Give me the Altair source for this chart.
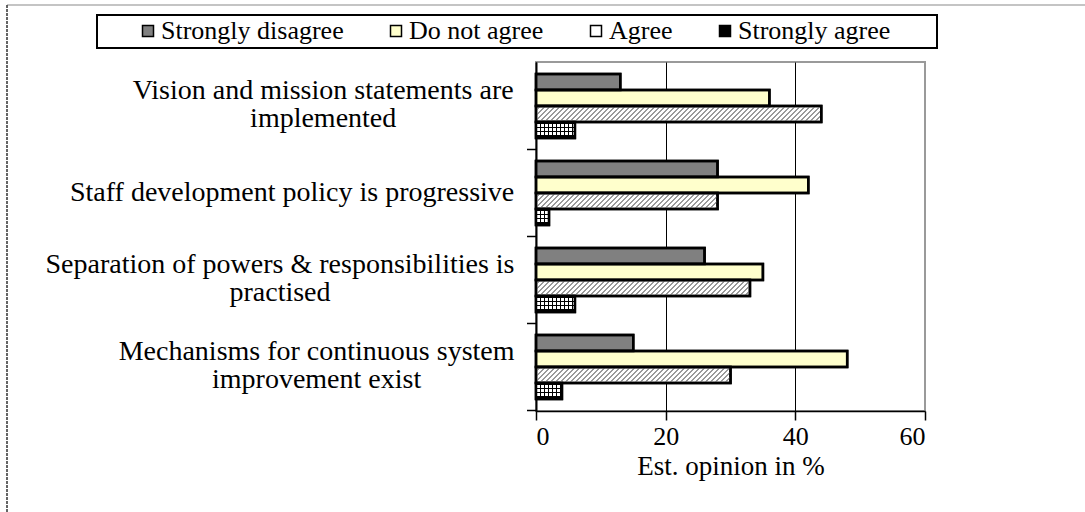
import json
import altair as alt
import pandas as pd

# ---------------- data ----------------
categories = [
    "Vision and mission statements are implemented",
    "Staff development policy is progressive",
    "Separation of powers & responsibilities is practised",
    "Mechanisms for continuous system improvement exist",
]
label_lines = [
    ["Vision and mission statements are", "implemented"],
    ["Staff development policy is progressive"],
    ["Separation of powers & responsibilities is", "practised"],
    ["Mechanisms for continuous system", "improvement exist"],
]
series = ["Strongly disagree", "Do not agree", "Agree", "Strongly agree"]
strongly_disagree = [13, 28, 26, 15]
do_not_agree = [36, 42, 35, 48]
agree = [44, 28, 33, 30]
strongly_agree = [6, 2, 6, 4]
x_ticks = [0, 20, 40, 60]

FONT = "'Liberation Serif', 'Times New Roman', Times, 'DejaVu Serif', serif"
X_TITLE = "Est. opinion in %"

# Times / Liberation Serif advance widths (per 1000 em) to centre multi-line labels
TW = {" ": 250, "&": 778, "a": 444, "b": 500, "c": 444, "d": 500, "e": 444, "f": 333,
      "g": 500, "h": 500, "i": 278, "j": 278, "k": 500, "l": 278, "m": 778, "n": 500,
      "o": 500, "p": 500, "q": 500, "r": 333, "s": 389, "t": 278, "u": 500, "v": 500,
      "w": 722, "x": 500, "y": 500, "z": 444, "V": 722, "S": 556, "M": 889, "A": 722}
YFS = 28
LINE_H = 28


def text_w(s, size):
    return sum(TW.get(ch, 500) for ch in s) / 1000 * size


# ---------------- tables ----------------
rows = []
for s, vals in zip(series, [strongly_disagree, do_not_agree, agree, strongly_agree]):
    for c, v in zip(categories, vals):
        rows.append({"category": c, "series": s, "value": v, "zero": 0})
bars_df = pd.DataFrame(rows)

hatch_rows = []
for c, v in zip(categories, agree):
    for slot in range(33, 47):
        hatch_rows.append({"category": c, "slot": slot, "value": v, "zero": 0,
                           "pat": "h%d" % ((60 - slot) % 5)})
hatch_df = pd.DataFrame(hatch_rows)

grid_rows = []
for c, v in zip(categories, strongly_agree):
    for slot in (50, 51, 52, 54, 55, 56, 58, 59, 60):
        grid_rows.append({"category": c, "slot": slot, "value": v, "zero": 0, "pat": "g"})
grid_df = pd.DataFrame(grid_rows)

cat_df = pd.DataFrame({"category": categories})
one_df = pd.DataFrame({"k": [0]})

# ---------------- axis helpers ----------------
expr = "datum.value"
for c, lines in reversed(list(zip(categories, label_lines))):
    expr = "datum.value === %s ? %s : (%s)" % (json.dumps(c), json.dumps(lines), expr)

pad_conditions = []
off_conditions = []
for c, lines in zip(categories, label_lines):
    w = max(text_w(l, YFS) for l in lines)
    test = "datum.value === %s" % json.dumps(c)
    pad_conditions.append({"test": test, "value": round(22 + w / 2, 1)})
    off_conditions.append({"test": test, "value": -(len(lines) - 1) * (LINE_H / 2 + 1)})

y_scale = alt.Scale(paddingInner=23 / 87, paddingOuter=12 / 87)
y_main = alt.Y(
    "category:N", sort=categories, title=None, scale=y_scale,
    axis=alt.Axis(
        labelExpr=expr, labelAlign="center", labelBaseline="middle",
        labelPadding={"condition": pad_conditions, "value": 22},
        labelOffset={"condition": off_conditions, "value": 0},
        ticks=False, domainColor="black", domainWidth=2,
        labelFont=FONT, labelFontSize=YFS, labelLineHeight=LINE_H,
        labelColor="black", labelLimit=0,
    ),
)
y_plain = alt.Y("category:N", sort=categories)

x_scale = alt.Scale(domain=[0, 60], nice=False)
x_main = alt.X(
    "value:Q", scale=x_scale, title=X_TITLE,
    axis=alt.Axis(
        values=x_ticks, grid=True,
        gridColor={"condition": {"test": "datum.value === 60", "value": "#9a9a9a"}, "value": "black"},
        gridWidth=1, tickSize=9, tickColor="black", tickWidth=1.5,
        domainColor="black", domainWidth=1.5,
        labelFont=FONT, labelFontSize=26, labelColor="black", labelPadding=3,
        titleFont=FONT, titleFontSize=27, titleFontWeight="normal", titleColor="black",
        titlePadding=4,
    ),
)
slot_off = alt.YOffset("slot:O", scale=alt.Scale(domain=list(range(64)), paddingInner=0, paddingOuter=0))
dash_scale = alt.Scale(
    domain=["h0", "h1", "h2", "h3", "h4", "g"],
    range=[[2, 3], [0, 1, 2, 2], [0, 2, 2, 1], [0, 3, 2, 0], [1, 3, 1, 0], [0, 1, 3, 0]],
)

# ---------------- layers ----------------
bars = alt.Chart(bars_df).mark_bar(stroke="black", strokeWidth=2.5).encode(
    y=y_main,
    x=x_main,
    yOffset=alt.YOffset("series:N", sort=series,
                        scale=alt.Scale(domain=series, paddingInner=0, paddingOuter=0)),
    color=alt.Color(
        "series:N", sort=series,
        scale=alt.Scale(domain=series, range=["#808080", "#ffffcc", "#ffffff", "#000000"]),
        legend=alt.Legend(
            title=None, orient="none", legendX=-401, legendY=-44, direction="horizontal",
            columns=4, labelFont=FONT, labelFontSize=26, labelColor="black",
            symbolType="square", symbolSize=121, symbolStrokeColor="black",
            symbolStrokeWidth=1.5, columnPadding=39, labelOffset=0, padding=0,
            labelLimit=0,
        ),
    ),
)

hatch = alt.Chart(hatch_df).mark_rule(color="#9a9a9a", strokeWidth=1).encode(
    y=y_plain, yOffset=slot_off,
    x=alt.X("zero:Q", scale=x_scale, title=X_TITLE), x2="value:Q",
    strokeDash=alt.StrokeDash("pat:N", scale=dash_scale, legend=None),
)

grid = alt.Chart(grid_df).mark_rule(color="#ffffff", strokeWidth=1).encode(
    y=y_plain, yOffset=slot_off,
    x=alt.X("zero:Q", scale=x_scale, title=X_TITLE), x2="value:Q",
    strokeDash=alt.StrokeDash("pat:N", scale=dash_scale, legend=None),
)

outline = alt.Chart(bars_df).mark_bar(stroke="black", strokeWidth=2.5, fillOpacity=0).encode(
    y=y_plain,
    x=alt.X("value:Q", scale=x_scale, title=X_TITLE),
    yOffset=alt.YOffset("series:N", sort=series,
                        scale=alt.Scale(domain=series, paddingInner=0, paddingOuter=0)),
)

cat_ticks = alt.Chart(cat_df).mark_rule(color="black", strokeWidth=1.5, yOffset=11.5).encode(
    y=alt.Y("category:N", sort=categories, bandPosition=1),
    x=alt.value(-9), x2=alt.value(0),
)

legend_box = alt.Chart(one_df).mark_rect(fillOpacity=0, stroke="black", strokeWidth=2).encode(
    x=alt.value(-439), x2=alt.value(401), y=alt.value(-47), y2=alt.value(-14),
)
frame_top = alt.Chart(one_df).mark_rule(color="#b0b0b0", strokeWidth=1.5).encode(
    x=alt.value(-529), x2=alt.value(560), y=alt.value(-57),
)
frame_left = alt.Chart(one_df).mark_rule(color="#333333", strokeWidth=1.5, strokeDash=[3, 1]).encode(
    x=alt.value(-529), y=alt.value(-57), y2=alt.value(460),
)

chart = alt.layer(
    bars, hatch, grid, outline, cat_ticks, legend_box, frame_top, frame_left
).resolve_scale(
    yOffset="independent"
).properties(
    width=389, height=349, autosize="none",
    padding={"left": 536, "top": 62, "right": 160, "bottom": 101},
    background="white",
).configure_view(
    stroke="#9a9a9a", strokeWidth=2
)

chart.save("out.html", embed_options={"renderer": "svg", "actions": False})
